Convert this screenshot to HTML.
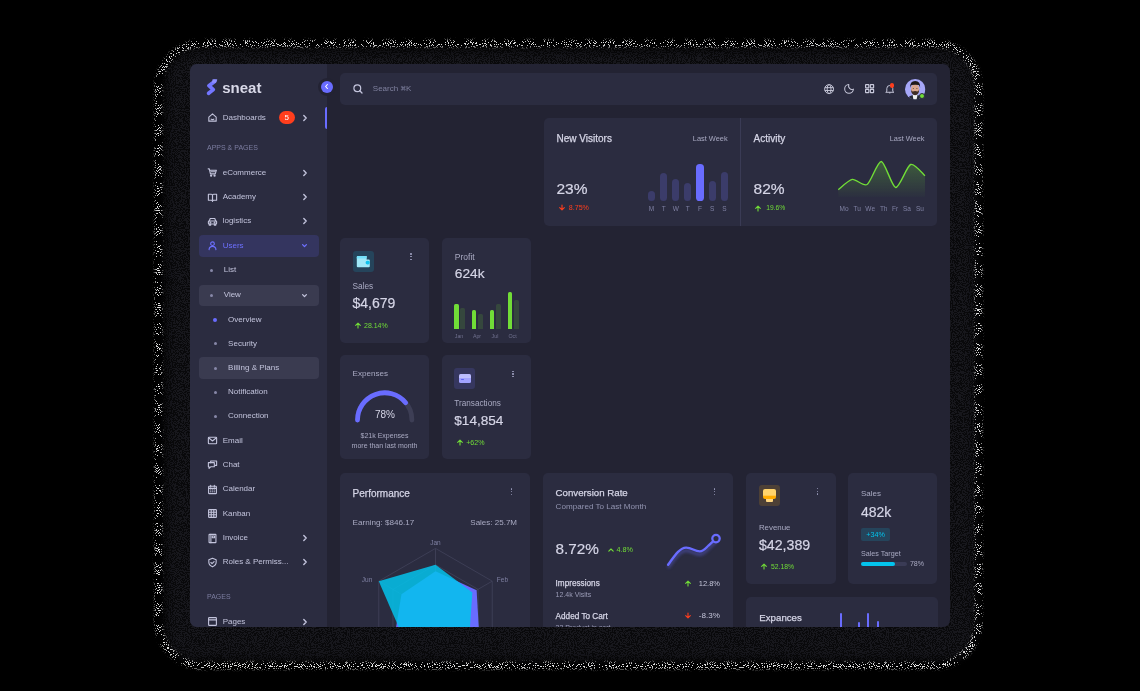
<!DOCTYPE html>
<html><head><meta charset="utf-8">
<style>
*{box-sizing:border-box;margin:0;padding:0}
html,body{width:1140px;height:691px;background:#000;overflow:hidden}
body{-webkit-font-smoothing:antialiased;font-family:"Liberation Sans",sans-serif;position:relative}
.fr{position:absolute;border-radius:48px;}
#win{position:absolute;left:190px;top:64px;width:760px;height:563px;border-radius:7px;overflow:hidden;background:#232333}
#pg{will-change:transform;position:absolute;left:-190px;top:-64px;width:1140px;height:691px}
.a{position:absolute}
.t{position:absolute;white-space:nowrap;line-height:1}
.card{position:absolute;background:#2b2c40;border-radius:5px}
svg{position:absolute;overflow:visible}
.mi{color:#c3c4dc;font-size:8px}
.ic{stroke:#c3c4dc;fill:none;stroke-linecap:round;stroke-linejoin:round}
.chev{stroke:#c3c4dc;fill:none;stroke-width:1.4;stroke-linecap:round;stroke-linejoin:round}
.bul{position:absolute;width:3px;height:3px;border-radius:50%;background:#8788a8}
.h{color:#d5d5e6}
.m{color:#a3a4c6}
.g{color:#71dd37}
.r{color:#ff3e1d}

</style></head><body>
<svg style="position:absolute;left:0;top:0" width="1140" height="691">
<defs>
<filter id="spk" x="0" y="0" width="1140" height="691" filterUnits="userSpaceOnUse" color-interpolation-filters="sRGB">
<feTurbulence type="fractalNoise" baseFrequency="0.95" numOctaves="1" seed="7" result="n"/>
<feColorMatrix in="n" type="matrix" values="0 0 0 0 1  0 0 0 0 1  0 0 0 0 1  1 0 0 0 0"/>
<feComponentTransfer><feFuncA type="discrete" tableValues="0 0 0 0 0 0 0 0 0 0 0 0 0 0 0 0 0 0 0 0 0 0 0 0 0 0 0 0 0 0 0 0 0 0 0 0 0 0 0 0 0 0 0 0 0 0 0 0 0 0 0 0 0 0 0 0 0 0 0 1 1 1 1 1 1 1 1 1 1 1 1 1 1 1 1 1 1 1 1 1 1 1 1 1 1 1 1 1 1 1 1 1 1 1 1 1 1 1 1 1"/></feComponentTransfer>
</filter>
<filter id="dk" x="0" y="0" width="1140" height="691" filterUnits="userSpaceOnUse" color-interpolation-filters="sRGB">
<feTurbulence type="fractalNoise" baseFrequency="0.95" numOctaves="1" seed="11" result="n"/>
<feColorMatrix in="n" type="matrix" values="0 0 0 0 0.09  0 0 0 0 0.09  0 0 0 0 0.11  1 0 0 0 0"/>
<feComponentTransfer><feFuncA type="discrete" tableValues="0 0 0 0 1 1 1 1"/></feComponentTransfer>
</filter>
<filter id="bl" color-interpolation-filters="sRGB"><feGaussianBlur stdDeviation="1.6"/></filter>
<filter id="bl2" color-interpolation-filters="sRGB"><feGaussianBlur stdDeviation="5"/></filter>
<mask id="ring" maskUnits="userSpaceOnUse" x="0" y="0" width="1140" height="691">
<rect x="158.5" y="43.5" width="820" height="622" rx="44" fill="none" stroke="#fff" stroke-opacity="0.9" stroke-width="7" filter="url(#bl)"/>
</mask>
<mask id="band" maskUnits="userSpaceOnUse" x="0" y="0" width="1140" height="691">
<rect x="166" y="50" width="809" height="610" rx="30" fill="#fff" filter="url(#bl2)"/>
</mask>
</defs>
<rect x="0" y="0" width="1140" height="691" fill="#09090b" mask="url(#band)"/>
<rect x="0" y="0" width="1140" height="691" filter="url(#dk)" mask="url(#band)"/>
<rect x="0" y="0" width="1140" height="691" filter="url(#spk)" mask="url(#ring)"/>
</svg>

<div id="win"><div id="pg">
<div class="a" style="left:190px;top:64px;width:137px;height:563px;background:#2b2c40"></div>
<div class="a" style="left:199px;top:235px;width:120px;height:21.5px;border-radius:4px;background:#34355f"></div>
<div class="a" style="left:199px;top:284.5px;width:120px;height:21px;border-radius:4px;background:#3a3b50"></div>
<div class="a" style="left:199px;top:357.3px;width:120px;height:21.4px;border-radius:4px;background:#3a3b50"></div>
<div class="a" style="left:324.9px;top:106.5px;width:2.3px;height:22.1px;border-radius:2px 0 0 2px;background:#696cff"></div>
<div class="a" style="left:279px;top:111px;width:15.6px;height:13px;border-radius:7px;background:#ff3e1d;color:#fff;font-size:8px;line-height:13px;text-align:center">5</div>
<svg style="left:202px;top:74px" width="20" height="24" viewBox="0 0 20 24"><path d="M12.6 7.4 L6.9 11.7 L11.3 15.6 L6.6 19.3" stroke="#7376ff" stroke-width="3.7" fill="none" stroke-linecap="round" stroke-linejoin="round"/><path d="M10.6 5.3 L14.7 5.3 Q15.5 5.3 15.2 6 L14 8.8 L10 8.8 Z" fill="#8e90ff"/></svg>
<div class="t" style="left:222.2px;top:79.5px;font-size:15px;font-weight:700;color:#d9d9e8">sneat</div>
<div class="a" style="left:317.6px;top:77.8px;width:18px;height:18px;border-radius:50%;background:#232333"></div>
<div class="a" style="left:320.6px;top:80.8px;width:12px;height:12px;border-radius:50%;background:#696cff"></div>
<svg style="left:325.3px;top:84.3px" width="3" height="5" viewBox="0 0 3 5"><path d="M2.4 0.5 L0.6 2.5 L2.4 4.5" stroke="#fff" stroke-width="1.1" fill="none" stroke-linecap="round" stroke-linejoin="round"/></svg>
<svg class="ic" style="left:207.3px;top:112.0px;stroke:#c3c4dc" width="11" height="11" viewBox="0 0 24 24" stroke-width="2.4"><path d="M4 11 L12 4 L20 11 V20 H4 Z"/><path d="M9 15.5 Q12 18 15 15.5"/></svg>
<div class="t mi" style="left:222.7px;top:113.59px;">Dashboards</div>
<svg class="chev" style="left:303px;top:114.5px" width="4" height="6" viewBox="0 0 4 6"><path d="M0.8 0.6 L3.2 3 L0.8 5.4"/></svg>
<svg class="ic" style="left:207.3px;top:167.4px;stroke:#c3c4dc" width="11" height="11" viewBox="0 0 24 24" stroke-width="2.4"><path d="M2.5 4 H5 L7.5 15 H18 L20.5 7 H6"/><path d="M9 10.5 H18"/><circle cx="9" cy="19" r="1.3"/><circle cx="16.5" cy="19" r="1.3"/></svg>
<div class="t mi" style="left:222.7px;top:168.99px;">eCommerce</div>
<svg class="chev" style="left:303px;top:169.9px" width="4" height="6" viewBox="0 0 4 6"><path d="M0.8 0.6 L3.2 3 L0.8 5.4"/></svg>
<svg class="ic" style="left:207.3px;top:191.7px;stroke:#c3c4dc" width="11" height="11" viewBox="0 0 24 24" stroke-width="2.4"><path d="M3 5 H9.5 Q12 5 12 7.5 V20 Q12 18 9.5 18 H3 Z"/><path d="M21 5 H14.5 Q12 5 12 7.5 V20 Q12 18 14.5 18 H21 Z"/></svg>
<div class="t mi" style="left:222.7px;top:193.29px;">Academy</div>
<svg class="chev" style="left:303px;top:194.2px" width="4" height="6" viewBox="0 0 4 6"><path d="M0.8 0.6 L3.2 3 L0.8 5.4"/></svg>
<svg class="ic" style="left:207.3px;top:215.8px;stroke:#c3c4dc" width="11" height="11" viewBox="0 0 24 24" stroke-width="2.4"><path d="M5 11 L7 5.5 H17 L19 11"/><rect x="3" y="11" width="18" height="6.5" rx="1.5"/><path d="M5 17.5 V20 H8 V17.5 M16 17.5 V20 H19 V17.5"/><circle cx="7.5" cy="14.2" r="0.9"/><circle cx="16.5" cy="14.2" r="0.9"/></svg>
<div class="t mi" style="left:222.7px;top:217.39px;">logistics</div>
<svg class="chev" style="left:303px;top:218.3px" width="4" height="6" viewBox="0 0 4 6"><path d="M0.8 0.6 L3.2 3 L0.8 5.4"/></svg>
<svg class="ic" style="left:207.3px;top:240.1px;stroke:#6d70ff" width="11" height="11" viewBox="0 0 24 24" stroke-width="2.4"><circle cx="12" cy="8" r="4"/><path d="M4.5 21 Q5 14 12 14 Q19 14 19.5 21"/></svg>
<div class="t mi" style="left:222.7px;top:241.69px;color:#6d70ff">Users</div>
<svg class="chev" style="left:302.2px;top:244.0px;stroke:#6e71ff;stroke-width:1.3" width="5" height="3.2" viewBox="0 0 5 3.2"><path d="M0.6 0.6 L2.5 2.6 L4.4 0.6"/></svg>
<div class="bul" style="left:210.1px;top:268.5px"></div>
<div class="t mi" style="left:223.7px;top:266.09px;">List</div>
<div class="bul" style="left:210.1px;top:293.6px"></div>
<div class="t mi" style="left:223.7px;top:291.19px;">View</div>
<svg class="chev" style="left:302.2px;top:293.5px;stroke:#c3c4dc;stroke-width:1.3" width="5" height="3.2" viewBox="0 0 5 3.2"><path d="M0.6 0.6 L2.5 2.6 L4.4 0.6"/></svg>
<div class="bul" style="left:212.8px;top:317.5px;width:4.4px;height:4.4px;background:#696cff"></div>
<div class="t mi" style="left:228.1px;top:315.79px;">Overview</div>
<div class="bul" style="left:214.1px;top:342.3px"></div>
<div class="t mi" style="left:228.1px;top:339.89px;">Security</div>
<div class="bul" style="left:214.1px;top:366.6px"></div>
<div class="t mi" style="left:228.1px;top:364.19px;">Billing &amp; Plans</div>
<div class="bul" style="left:214.1px;top:390.7px"></div>
<div class="t mi" style="left:228.1px;top:388.29px;">Notification</div>
<div class="bul" style="left:214.1px;top:414.8px"></div>
<div class="t mi" style="left:228.1px;top:412.39px;">Connection</div>
<svg class="ic" style="left:207.3px;top:435.1px;stroke:#c3c4dc" width="11" height="11" viewBox="0 0 24 24" stroke-width="2.4"><rect x="3" y="5" width="18" height="14" rx="1.5"/><path d="M3.5 6 L12 13 L20.5 6"/></svg>
<div class="t mi" style="left:222.7px;top:436.69px;">Email</div>
<svg class="ic" style="left:207.3px;top:459.2px;stroke:#c3c4dc" width="11" height="11" viewBox="0 0 24 24" stroke-width="2.4"><path d="M8 8 V4.5 H21 V14 H18"/><path d="M3 8 H16 V17 H8 L4.5 20.5 V17 H3 Z"/></svg>
<div class="t mi" style="left:222.7px;top:460.79px;">Chat</div>
<svg class="ic" style="left:207.3px;top:483.9px;stroke:#c3c4dc" width="11" height="11" viewBox="0 0 24 24" stroke-width="2.4"><rect x="3.5" y="5" width="17" height="16" rx="1.5"/><path d="M3.5 9.5 H20.5 M8 3 V6.5 M16 3 V6.5"/><path d="M7.5 13 h1 M11.5 13 h1 M15.5 13 h1 M7.5 17 h1 M11.5 17 h1 M15.5 17 h1" stroke-width="2"/></svg>
<div class="t mi" style="left:222.7px;top:485.49px;">Calendar</div>
<svg class="ic" style="left:207.3px;top:508.4px;stroke:#c3c4dc" width="11" height="11" viewBox="0 0 24 24" stroke-width="2.4"><rect x="3.5" y="3.5" width="17" height="17" rx="1.5"/><path d="M3.5 9.2 H20.5 M3.5 14.8 H20.5 M9.2 3.5 V20.5 M14.8 3.5 V20.5"/></svg>
<div class="t mi" style="left:222.7px;top:509.99px;">Kanban</div>
<svg class="ic" style="left:207.3px;top:532.6px;stroke:#c3c4dc" width="11" height="11" viewBox="0 0 24 24" stroke-width="2.4"><rect x="4.5" y="3" width="15" height="18" rx="1"/><path d="M8.5 3 V21"/><rect x="11.5" y="6.5" width="5" height="4"/></svg>
<div class="t mi" style="left:222.7px;top:534.19px;">Invoice</div>
<svg class="chev" style="left:303px;top:535.1px" width="4" height="6" viewBox="0 0 4 6"><path d="M0.8 0.6 L3.2 3 L0.8 5.4"/></svg>
<svg class="ic" style="left:207.3px;top:556.8px;stroke:#c3c4dc" width="11" height="11" viewBox="0 0 24 24" stroke-width="2.4"><path d="M12 2.8 L20 6 V11.5 Q20 18 12 21.5 Q4 18 4 11.5 V6 Z"/><path d="M8.5 12 L11 14.5 L15.5 10"/></svg>
<div class="t mi" style="left:222.7px;top:558.39px;">Roles &amp; Permiss...</div>
<svg class="chev" style="left:303px;top:559.3px" width="4" height="6" viewBox="0 0 4 6"><path d="M0.8 0.6 L3.2 3 L0.8 5.4"/></svg>
<svg class="ic" style="left:207.3px;top:616.0px;stroke:#c3c4dc" width="11" height="11" viewBox="0 0 24 24" stroke-width="2.4"><rect x="3.5" y="3.5" width="17" height="17" rx="1.5"/><path d="M3.5 8.5 H20.5"/></svg>
<div class="t mi" style="left:222.7px;top:617.59px;">Pages</div>
<svg class="chev" style="left:303px;top:618.5px" width="4" height="6" viewBox="0 0 4 6"><path d="M0.8 0.6 L3.2 3 L0.8 5.4"/></svg>
<div class="card" style="left:340px;top:72.5px;width:597px;height:32.5px;border-radius:5px"></div>
<div class="card" style="left:543.6px;top:117.8px;width:393.6px;height:107.8px"></div>
<div class="a" style="left:740px;top:117.8px;width:1px;height:107.8px;background:#3a3b55"></div>
<div class="card" style="left:340px;top:238px;width:89px;height:104.5px"></div>
<div class="card" style="left:442px;top:238px;width:88.6px;height:104.5px"></div>
<div class="card" style="left:340px;top:355.4px;width:89px;height:104px"></div>
<div class="card" style="left:442px;top:355.4px;width:88.6px;height:104px"></div>
<div class="card" style="left:340px;top:472.7px;width:190px;height:200px"></div>
<div class="card" style="left:542.8px;top:472.7px;width:190px;height:200px"></div>
<div class="card" style="left:746px;top:472.7px;width:89.5px;height:111.5px"></div>
<div class="card" style="left:848.3px;top:472.7px;width:89.2px;height:111.5px"></div>
<div class="card" style="left:746px;top:597.2px;width:191.5px;height:100px"></div>
<div class="t " style="top:144.00px;font-size:7px;left:207.00px;color:#7c7da0;">APPS &amp; PAGES</div><div class="t " style="top:593.00px;font-size:7px;left:207.00px;color:#7c7da0;">PAGES</div><svg style="left:353.2px;top:84px" width="10" height="10" viewBox="0 0 10 10"><circle cx="4.3" cy="4.3" r="3.4" stroke="#c3c4dc" stroke-width="1.2" fill="none"/><path d="M6.8 6.8 L9 9" stroke="#c3c4dc" stroke-width="1.3" stroke-linecap="round"/></svg><div class="t " style="top:85.00px;font-size:8px;left:372.80px;color:#7f809e;">Search</div><svg style="left:401.1px;top:86.1px" width="4.6" height="4.6" viewBox="0 0 6 6" fill="none" stroke="#7f809e" stroke-width="0.8"><path d="M2 2 H4 V4 H2 Z M2 2 V1.2 A0.8 0.8 0 1 0 1.2 2 H2 M4 2 V1.2 A0.8 0.8 0 1 1 4.8 2 H4 M2 4 V4.8 A0.8 0.8 0 1 1 1.2 4 H2 M4 4 V4.8 A0.8 0.8 0 1 0 4.8 4 H4"/></svg><div class="t " style="top:85.00px;font-size:8px;left:405.90px;color:#7f809e;">K</div><svg style="left:823.9px;top:83.6px" width="10.2" height="10.2" viewBox="0 0 24 24" fill="none" stroke="#c9cadc" stroke-width="2.2"><circle cx="12" cy="12" r="10.5"/><ellipse cx="12" cy="12" rx="4.6" ry="10.5"/><path d="M2 8.6 H22 M2 15.4 H22" /></svg><svg style="left:843.6px;top:83.2px" width="11" height="11" viewBox="0 0 24 24" fill="none" stroke="#c9cadc" stroke-width="2.2" stroke-linejoin="round"><path d="M10.63 3.51 A9.5 9.5 0 1 0 20.49 13.37 A7.5 7.5 0 0 1 10.63 3.51 Z"/></svg><svg style="left:864.9px;top:84px" width="9.2" height="9.2" viewBox="0 0 24 24" fill="none" stroke="#c9cadc" stroke-width="3"><rect x="1.5" y="1.5" width="8.5" height="8.5" rx="1"/><rect x="14" y="1.5" width="8.5" height="8.5" rx="1"/><rect x="1.5" y="14" width="8.5" height="8.5" rx="1"/><rect x="14" y="14" width="8.5" height="8.5" rx="1"/></svg><svg style="left:884.6px;top:84px" width="9.6" height="10.2" viewBox="0 0 22 24" fill="none" stroke="#c9cadc" stroke-width="2.3" stroke-linejoin="round"><path d="M4 17.5 V10.5 A7 7 0 0 1 18 10.5 V17.5 L20.5 19.5 H1.5 Z"/><path d="M11 19.5 V22.5"/></svg><div class="a" style="left:890.2px;top:83.3px;width:4.3px;height:4.3px;border-radius:50%;background:#ff3e1d"></div><svg style="left:904.6px;top:78.6px" width="20.4" height="20.4" viewBox="0 0 20.4 20.4"><defs><clipPath id="avc"><circle cx="10.2" cy="10.2" r="10.2"/></clipPath></defs>
<g clip-path="url(#avc)"><rect width="20.4" height="20.4" fill="#a6a7f8"/>
<path d="M2.5 21 L4.5 17.2 L8.5 15.8 L12 15.8 L16 17.2 L18 21 Z" fill="#252838"/>
<path d="M7.6 15.6 L12.6 15.6 L11.6 20.4 L8.4 20.4 Z" fill="#eef0f2"/>
<ellipse cx="10.1" cy="10.3" rx="4.1" ry="5.4" fill="#d9a78e"/>
<path d="M6 10.2 Q6.1 15.6 10.1 16.3 Q14.1 15.6 14.2 10.2 Q13.6 12.4 12.4 12.6 Q10.1 11.6 7.8 12.6 Q6.6 12.4 6 10.2 Z" fill="#3e2d27"/>
<ellipse cx="8.4" cy="9.4" rx="0.7" ry="0.45" fill="#3a2a25"/><ellipse cx="11.9" cy="9.4" rx="0.7" ry="0.45" fill="#3a2a25"/>
<path d="M5.2 9 Q4.6 2 10.2 1.9 Q15.7 2 15.1 9 Q14.6 6.6 13.8 6 Q10.2 5.4 6.6 6 Q5.8 6.6 5.2 9 Z" fill="#1f1a19"/>
</g></svg><div class="a" style="left:918.7px;top:92.6px;width:6px;height:6px;border-radius:50%;background:#71dd37;border:0.8px solid #2b2c40"></div><div class="t " style="top:134.00px;font-size:10px;left:556.50px;color:#d5d5e6;-webkit-text-stroke:0.25px #d5d5e6;">New Visitors</div><div class="t " style="top:135.00px;font-size:7.4px;right:412.40px;color:#a9aac2;">Last Week</div><div class="t " style="top:181.00px;font-size:15.5px;left:556.50px;color:#d5d5e6;-webkit-text-stroke:0.2px #d5d5e6;">23%</div><svg style="left:558.50px;top:204.80px" width="6" height="6" viewBox="0 0 6 6"><path d="M3 0 V4.6 M0.7 2.6 L3 4.9 L5.3 2.6" stroke="#ff3e1d" stroke-width="1.1" fill="none" stroke-linecap="round" stroke-linejoin="round"/></svg><div class="t " style="top:205.00px;font-size:7.1px;left:568.80px;color:#ff3e1d;">8.75%</div><div class="a" style="left:647.90px;top:190.60px;width:7.2px;height:10.10px;border-radius:3.6px;background:#3b3c6a"></div><div class="a" style="left:660.10px;top:172.60px;width:7.2px;height:28.10px;border-radius:3.6px;background:#3b3c6a"></div><div class="a" style="left:672.20px;top:178.90px;width:7.2px;height:21.80px;border-radius:3.6px;background:#3b3c6a"></div><div class="a" style="left:684.20px;top:182.70px;width:7.2px;height:18.00px;border-radius:3.6px;background:#3b3c6a"></div><div class="a" style="left:696.40px;top:164.10px;width:7.2px;height:36.60px;border-radius:3.6px;background:#696cff"></div><div class="a" style="left:708.50px;top:180.90px;width:7.2px;height:19.80px;border-radius:3.6px;background:#3b3c6a"></div><div class="a" style="left:720.70px;top:171.70px;width:7.2px;height:29.00px;border-radius:3.6px;background:#3b3c6a"></div><div class="t " style="top:206.00px;font-size:6.5px;left:651.50px;transform:translateX(-50%);color:#7f80a2;">M</div><div class="t " style="top:206.00px;font-size:6.5px;left:663.70px;transform:translateX(-50%);color:#7f80a2;">T</div><div class="t " style="top:206.00px;font-size:6.5px;left:675.80px;transform:translateX(-50%);color:#7f80a2;">W</div><div class="t " style="top:206.00px;font-size:6.5px;left:687.80px;transform:translateX(-50%);color:#7f80a2;">T</div><div class="t " style="top:206.00px;font-size:6.5px;left:700.00px;transform:translateX(-50%);color:#7f80a2;">F</div><div class="t " style="top:206.00px;font-size:6.5px;left:712.10px;transform:translateX(-50%);color:#7f80a2;">S</div><div class="t " style="top:206.00px;font-size:6.5px;left:724.30px;transform:translateX(-50%);color:#7f80a2;">S</div><div class="t " style="top:134.00px;font-size:10px;left:753.60px;color:#d5d5e6;-webkit-text-stroke:0.25px #d5d5e6;">Activity</div><div class="t " style="top:135.00px;font-size:7.4px;right:215.50px;color:#a9aac2;">Last Week</div><div class="t " style="top:181.00px;font-size:15.5px;left:753.60px;color:#d5d5e6;-webkit-text-stroke:0.2px #d5d5e6;">82%</div><svg style="left:755.30px;top:204.80px" width="6" height="6" viewBox="0 0 6 6"><path d="M3 6 V1.4 M0.7 3.4 L3 1.1 L5.3 3.4" stroke="#71dd37" stroke-width="1.1" fill="none" stroke-linecap="round" stroke-linejoin="round"/></svg><div class="t " style="top:205.00px;font-size:6.7px;left:766.20px;color:#71dd37;">19.6%</div><svg style="left:0;top:0" width="1140" height="691"><defs><linearGradient id="ga" x1="0" y1="0" x2="0" y2="1"><stop offset="0" stop-color="#71dd37" stop-opacity="0.28"/><stop offset="1" stop-color="#71dd37" stop-opacity="0.02"/></linearGradient></defs>
<path d="M838.3,189.7 C840.11,188.36 848.46,180.08 852.20,179.40 C855.94,178.72 863.32,186.83 867.10,184.50 C870.88,182.17 877.58,161.11 881.30,161.50 C885.02,161.89 891.89,187.11 895.70,187.50 C899.51,187.89 906.79,166.02 910.60,164.50 C914.41,162.98 923.13,174.33 925.00,175.80 L925,197 L838.3,197 Z" fill="url(#ga)"/><path d="M838.3,189.7 C840.11,188.36 848.46,180.08 852.20,179.40 C855.94,178.72 863.32,186.83 867.10,184.50 C870.88,182.17 877.58,161.11 881.30,161.50 C885.02,161.89 891.89,187.11 895.70,187.50 C899.51,187.89 906.79,166.02 910.60,164.50 C914.41,162.98 923.13,174.33 925.00,175.80" stroke="#71dd37" stroke-width="1.4" fill="none" stroke-linejoin="round"/></svg><div class="t " style="top:206.00px;font-size:6.5px;left:844.10px;transform:translateX(-50%);color:#7f80a2;">Mo</div><div class="t " style="top:206.00px;font-size:6.5px;left:857.20px;transform:translateX(-50%);color:#7f80a2;">Tu</div><div class="t " style="top:206.00px;font-size:6.5px;left:870.20px;transform:translateX(-50%);color:#7f80a2;">We</div><div class="t " style="top:206.00px;font-size:6.5px;left:883.70px;transform:translateX(-50%);color:#7f80a2;">Th</div><div class="t " style="top:206.00px;font-size:6.5px;left:895.00px;transform:translateX(-50%);color:#7f80a2;">Fr</div><div class="t " style="top:206.00px;font-size:6.5px;left:907.00px;transform:translateX(-50%);color:#7f80a2;">Sa</div><div class="t " style="top:206.00px;font-size:6.5px;left:920.00px;transform:translateX(-50%);color:#7f80a2;">Su</div><div class="a" style="left:352.5px;top:251px;width:21px;height:21px;border-radius:3px;background:#25445b"></div><svg style="left:0;top:0" width="1140" height="691"><path d="M357.8 255.9 H366.6 V259.4 H368.8 Q369.8 259.4 369.8 260.4 V266.2 Q369.8 267.2 368.8 267.2 H357.8 Q356.8 267.2 356.8 266.2 V256.9 Q356.8 255.9 357.8 255.9 Z" fill="#a0e8f8"/><path d="M357.8 255.9 H366.6 V258.6 H356.8 V256.9 Q356.8 255.9 357.8 255.9 Z" fill="#74e0f9"/><rect x="365.6" y="260.8" width="4.2" height="3.7" rx="1.8" fill="#10c3ee"/></svg><div class="a" style="left:410.30px;top:253.30px;width:1.4px;height:1.4px;border-radius:50%;background:#9a9bba"></div><div class="a" style="left:410.30px;top:256.10px;width:1.4px;height:1.4px;border-radius:50%;background:#9a9bba"></div><div class="a" style="left:410.30px;top:258.90px;width:1.4px;height:1.4px;border-radius:50%;background:#9a9bba"></div><div class="t " style="top:282.00px;font-size:8.3px;left:352.50px;color:#a9aac2;">Sales</div><div class="t " style="top:296.00px;font-size:14px;left:352.50px;color:#d5d5e6;-webkit-text-stroke:0.2px #d5d5e6;">$4,679</div><svg style="left:354.90px;top:321.60px" width="6" height="6" viewBox="0 0 6 6"><path d="M3 6 V1.4 M0.7 3.4 L3 1.1 L5.3 3.4" stroke="#71dd37" stroke-width="1.1" fill="none" stroke-linecap="round" stroke-linejoin="round"/></svg><div class="t " style="top:322.00px;font-size:7px;left:364.00px;color:#71dd37;">28.14%</div><div class="t " style="top:253.00px;font-size:8.5px;left:454.80px;color:#a9aac2;">Profit</div><div class="t " style="top:267.00px;font-size:13.7px;left:454.80px;color:#d5d5e6;-webkit-text-stroke:0.2px #d5d5e6;">624k</div><div class="a" style="left:454.00px;top:303.90px;width:4.70px;height:24.90px;border-radius:1.5px 1.5px 0 0;background:#71dd37"></div><div class="a" style="left:460.40px;top:308.00px;width:4.40px;height:20.80px;border-radius:1.5px 1.5px 0 0;background:#35473d"></div><div class="a" style="left:471.80px;top:309.70px;width:4.60px;height:19.10px;border-radius:1.5px 1.5px 0 0;background:#71dd37"></div><div class="a" style="left:478.20px;top:314.10px;width:4.50px;height:14.70px;border-radius:1.5px 1.5px 0 0;background:#35473d"></div><div class="a" style="left:489.90px;top:309.70px;width:4.40px;height:19.10px;border-radius:1.5px 1.5px 0 0;background:#71dd37"></div><div class="a" style="left:496.00px;top:303.60px;width:4.80px;height:25.20px;border-radius:1.5px 1.5px 0 0;background:#35473d"></div><div class="a" style="left:507.80px;top:292.00px;width:4.40px;height:36.80px;border-radius:1.5px 1.5px 0 0;background:#71dd37"></div><div class="a" style="left:514.00px;top:299.90px;width:4.70px;height:28.90px;border-radius:1.5px 1.5px 0 0;background:#35473d"></div><div class="t " style="top:334.00px;font-size:5.3px;left:459.00px;transform:translateX(-50%);color:#70718f;">Jan</div><div class="t " style="top:334.00px;font-size:5.3px;left:477.00px;transform:translateX(-50%);color:#70718f;">Apr</div><div class="t " style="top:334.00px;font-size:5.3px;left:495.00px;transform:translateX(-50%);color:#70718f;">Jul</div><div class="t " style="top:334.00px;font-size:5.3px;left:512.50px;transform:translateX(-50%);color:#70718f;">Oct</div><div class="t " style="top:370.00px;font-size:8.1px;left:352.50px;color:#a9aac2;">Expenses</div><svg style="left:0;top:0" width="1140" height="691"><path d="M357.50,420.00 A27.2,27.2 0 0 1 411.90,420.00" stroke="#3d3e55" stroke-width="4.8" fill="none" stroke-linecap="round"/>
<path d="M357.50,420.00 A27.2,27.2 0 0 1 405.66,402.66" stroke="#696cff" stroke-width="4.8" fill="none" stroke-linecap="round"/></svg><div class="t " style="top:410.00px;font-size:10px;left:385.00px;transform:translateX(-50%);color:#d5d5e6;">78%</div><div class="t " style="top:432.00px;font-size:7px;left:384.50px;transform:translateX(-50%);color:#a9aac2;">$21k Expenses</div><div class="t " style="top:442.00px;font-size:7px;left:384.50px;transform:translateX(-50%);color:#a9aac2;">more than last month</div><div class="a" style="left:454.3px;top:368.2px;width:21px;height:20.7px;border-radius:3px;background:#36375f"></div><div class="a" style="left:458.7px;top:374.3px;width:12.3px;height:8.8px;border-radius:1.5px;background:linear-gradient(#b9baff 0,#c0c1ff 40%,#a2a3ff 42%,#a2a3ff 100%)"></div><div class="a" style="left:461px;top:378.9px;width:3.2px;height:1.3px;border-radius:1px;background:#5f62f6"></div><div class="a" style="left:512.30px;top:370.50px;width:1.4px;height:1.4px;border-radius:50%;background:#9a9bba"></div><div class="a" style="left:512.30px;top:373.30px;width:1.4px;height:1.4px;border-radius:50%;background:#9a9bba"></div><div class="a" style="left:512.30px;top:376.10px;width:1.4px;height:1.4px;border-radius:50%;background:#9a9bba"></div><div class="t " style="top:400.00px;font-size:8.2px;left:454.30px;color:#a9aac2;">Transactions</div><div class="t " style="top:414.00px;font-size:13.6px;left:454.30px;color:#d5d5e6;-webkit-text-stroke:0.2px #d5d5e6;">$14,854</div><svg style="left:456.60px;top:439.20px" width="6" height="6" viewBox="0 0 6 6"><path d="M3 6 V1.4 M0.7 3.4 L3 1.1 L5.3 3.4" stroke="#71dd37" stroke-width="1.1" fill="none" stroke-linecap="round" stroke-linejoin="round"/></svg><div class="t " style="top:440.00px;font-size:7.1px;left:466.20px;color:#71dd37;">+62%</div><div class="t " style="top:489.00px;font-size:10px;left:352.60px;color:#d5d5e6;-webkit-text-stroke:0.25px #d5d5e6;">Performance</div><div class="a" style="left:510.80px;top:488.30px;width:1.4px;height:1.4px;border-radius:50%;background:#9a9bba"></div><div class="a" style="left:510.80px;top:491.10px;width:1.4px;height:1.4px;border-radius:50%;background:#9a9bba"></div><div class="a" style="left:510.80px;top:493.90px;width:1.4px;height:1.4px;border-radius:50%;background:#9a9bba"></div><div class="t " style="top:519.00px;font-size:8.1px;left:352.60px;color:#a9aac2;">Earning: $846.17</div><div class="t " style="top:519.00px;font-size:8px;right:623.00px;color:#a9aac2;">Sales: 25.7M</div><svg style="left:0;top:0" width="1140" height="691"><path d="M435.50,597.52 L449.68,605.71 L449.68,622.09 L435.50,630.27 L421.32,622.09 L421.32,605.71 Z" stroke="#45465e" stroke-width="0.7" fill="none"/><path d="M435.50,581.15 L463.86,597.52 L463.86,630.27 L435.50,646.65 L407.14,630.27 L407.14,597.52 Z" stroke="#45465e" stroke-width="0.7" fill="none"/><path d="M435.50,564.77 L478.04,589.34 L478.04,638.46 L435.50,663.02 L392.96,638.46 L392.96,589.34 Z" stroke="#45465e" stroke-width="0.7" fill="none"/><path d="M435.50,548.40 L492.22,581.15 L492.22,646.65 L435.50,679.40 L378.78,646.65 L378.78,581.15 Z" stroke="#45465e" stroke-width="0.7" fill="none"/><path d="M435.5,613.9 L435.50,548.40" stroke="#45465e" stroke-width="0.7"/><path d="M435.5,613.9 L492.22,581.15" stroke="#45465e" stroke-width="0.7"/><path d="M435.5,613.9 L492.22,646.65" stroke="#45465e" stroke-width="0.7"/><path d="M435.5,613.9 L435.50,679.40" stroke="#45465e" stroke-width="0.7"/><path d="M435.5,613.9 L378.78,646.65" stroke="#45465e" stroke-width="0.7"/><path d="M435.5,613.9 L378.78,581.15" stroke="#45465e" stroke-width="0.7"/><path d="M435.50,571.32 L476.63,590.16 L479.46,639.28 L435.50,679.40 L394.37,637.64 L401.47,594.25 Z" fill="#696cff"/><path d="M435.50,564.77 L472.37,592.61 L469.53,633.55 L435.50,656.48 L401.47,633.55 L378.78,581.15 Z" fill="#03c3ec" fill-opacity="0.85"/></svg><div class="t " style="top:540.00px;font-size:6.5px;left:435.50px;transform:translateX(-50%);color:#7f80a2;">Jan</div><div class="t " style="top:577.00px;font-size:6.5px;left:496.80px;color:#7f80a2;">Feb</div><div class="t " style="top:577.00px;font-size:6.5px;right:767.70px;color:#7f80a2;">Jun</div><div class="t " style="top:488.00px;font-size:9.7px;left:555.60px;color:#d5d5e6;-webkit-text-stroke:0.25px #d5d5e6;">Conversion Rate</div><div class="t " style="top:503.00px;font-size:8.1px;left:555.60px;color:#9294b0;">Compared To Last Month</div><div class="a" style="left:713.80px;top:488.30px;width:1.4px;height:1.4px;border-radius:50%;background:#9a9bba"></div><div class="a" style="left:713.80px;top:491.10px;width:1.4px;height:1.4px;border-radius:50%;background:#9a9bba"></div><div class="a" style="left:713.80px;top:493.90px;width:1.4px;height:1.4px;border-radius:50%;background:#9a9bba"></div><div class="t " style="top:541.00px;font-size:15.3px;left:555.60px;color:#d5d5e6;-webkit-text-stroke:0.2px #d5d5e6;">8.72%</div><svg style="left:607.5px;top:547.6px" width="6" height="4" viewBox="0 0 6 4"><path d="M0.8 3.2 L3 1 L5.2 3.2" stroke="#71dd37" stroke-width="1.1" fill="none" stroke-linecap="round" stroke-linejoin="round"/></svg><div class="t " style="top:546.00px;font-size:7.2px;left:616.60px;color:#71dd37;">4.8%</div><svg style="left:0;top:0" width="1140" height="691"><defs><filter id="sh" x="-20%" y="-20%" width="140%" height="160%"><feGaussianBlur stdDeviation="1.5"/></filter></defs>
<path d="M668.1,564.7 C674.5,556 679.5,547.8 686,547.6 C691.5,547.4 694.5,551.4 699.8,551.4 C703.5,551.4 705.5,548.5 708.5,545.5 L716,538.6" stroke="#696cff" stroke-opacity="0.4" stroke-width="2.6" fill="none" transform="translate(0,3)" filter="url(#sh)"/>
<path d="M668.1,564.7 C674.5,556 679.5,547.8 686,547.6 C691.5,547.4 694.5,551.4 699.8,551.4 C703.5,551.4 705.5,548.5 708.5,545.5 L716,538.6" stroke="#696cff" stroke-width="2.4" fill="none" stroke-linecap="round"/>
<circle cx="716" cy="538.6" r="3.7" fill="#2b2c40" stroke="#696cff" stroke-width="2.3"/></svg><div class="t " style="top:580.00px;font-size:8.2px;left:555.60px;color:#d5d5e6;-webkit-text-stroke:0.25px #d5d5e6;">Impressions</div><div class="t " style="top:591.00px;font-size:7px;left:555.60px;color:#9a9bb6;">12.4k Visits</div><svg style="left:685.30px;top:580.40px" width="6" height="6" viewBox="0 0 6 6"><path d="M3 6 V1.4 M0.7 3.4 L3 1.1 L5.3 3.4" stroke="#71dd37" stroke-width="1.1" fill="none" stroke-linecap="round" stroke-linejoin="round"/></svg><div class="t " style="top:580.00px;font-size:7.5px;right:420.00px;color:#c3c4d8;">12.8%</div><div class="t " style="top:613.00px;font-size:8.2px;left:555.60px;color:#d5d5e6;-webkit-text-stroke:0.25px #d5d5e6;">Added To Cart</div><div class="t " style="top:624.00px;font-size:7px;left:555.60px;color:#9a9bb6;">32 Product in cart</div><svg style="left:685.30px;top:612.60px" width="6" height="6" viewBox="0 0 6 6"><path d="M3 0 V4.6 M0.7 2.6 L3 4.9 L5.3 2.6" stroke="#ff3e1d" stroke-width="1.1" fill="none" stroke-linecap="round" stroke-linejoin="round"/></svg><div class="t " style="top:612.00px;font-size:8.1px;right:420.00px;color:#c3c4d8;">-8.3%</div><div class="a" style="left:758.9px;top:485px;width:21px;height:21px;border-radius:3px;background:#4d4036"></div><div class="a" style="left:763.2px;top:489.3px;width:13.1px;height:10.2px;border-radius:2px;background:linear-gradient(#ffd36b 0,#ffd36b 62%,#ffab00 72%,#ffab00 100%)"></div><div class="a" style="left:766.2px;top:499.4px;width:6.7px;height:2.5px;border-radius:0 0 1px 1px;background:#ffd680"></div><div class="a" style="left:816.70px;top:487.80px;width:1.4px;height:1.4px;border-radius:50%;background:#9a9bba"></div><div class="a" style="left:816.70px;top:490.60px;width:1.4px;height:1.4px;border-radius:50%;background:#9a9bba"></div><div class="a" style="left:816.70px;top:493.40px;width:1.4px;height:1.4px;border-radius:50%;background:#9a9bba"></div><div class="t " style="top:524.00px;font-size:7.9px;left:758.90px;color:#a9aac2;">Revenue</div><div class="t " style="top:538.00px;font-size:14.2px;left:758.90px;color:#d5d5e6;-webkit-text-stroke:0.2px #d5d5e6;">$42,389</div><svg style="left:761.20px;top:563.00px" width="6" height="6" viewBox="0 0 6 6"><path d="M3 6 V1.4 M0.7 3.4 L3 1.1 L5.3 3.4" stroke="#71dd37" stroke-width="1.1" fill="none" stroke-linecap="round" stroke-linejoin="round"/></svg><div class="t " style="top:564.00px;font-size:6.8px;left:771.00px;color:#71dd37;">52.18%</div><div class="t " style="top:490.00px;font-size:8px;left:860.90px;color:#a9aac2;">Sales</div><div class="t " style="top:505.00px;font-size:14px;left:860.90px;color:#d5d5e6;-webkit-text-stroke:0.2px #d5d5e6;">482k</div><div class="a" style="left:860.9px;top:528.3px;width:29.4px;height:12.8px;border-radius:2px;background:#25445b"></div><div class="t " style="top:531.00px;font-size:7.2px;left:875.60px;transform:translateX(-50%);color:#03c3ec;">+34%</div><div class="t " style="top:550.00px;font-size:7.2px;left:860.90px;color:#a9aac2;">Sales Target</div><div class="a" style="left:860.9px;top:561.6px;width:45.9px;height:4px;border-radius:2px;background:#3a3b55"></div><div class="a" style="left:860.9px;top:561.6px;width:34.1px;height:4px;border-radius:2px;background:#03c3ec"></div><div class="t " style="top:561.00px;font-size:7.1px;left:909.90px;color:#a9aac2;">78%</div><div class="t " style="top:613.00px;font-size:9.7px;left:759.30px;color:#d5d5e6;-webkit-text-stroke:0.25px #d5d5e6;">Expances</div><div class="a" style="left:839.70px;top:613.20px;width:2px;height:26.80px;border-radius:1px;background:#696cff"></div><div class="a" style="left:858.10px;top:622.40px;width:2px;height:17.60px;border-radius:1px;background:#696cff"></div><div class="a" style="left:867.30px;top:613.20px;width:2px;height:26.80px;border-radius:1px;background:#696cff"></div><div class="a" style="left:876.60px;top:620.90px;width:2px;height:19.10px;border-radius:1px;background:#696cff"></div>
</div></div>
</body></html>
